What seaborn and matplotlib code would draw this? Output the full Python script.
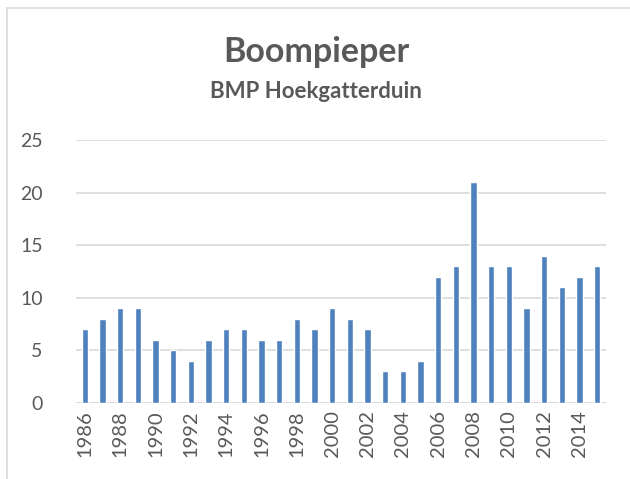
import matplotlib
matplotlib.use("Agg")
import matplotlib.pyplot as plt
import seaborn as sns
import pandas as pd
from matplotlib.lines import Line2D

years = list(range(1986, 2016))
counts = [7, 8, 9, 9, 6, 5, 4, 6, 7, 7, 6, 6, 8, 7, 9, 8, 7, 3, 3, 4,
          12, 13, 21, 13, 13, 9, 14, 11, 12, 13]
yticks = [0, 5, 10, 15, 20, 25]
title = "Boompieper"
subtitle = "BMP Hoekgatterduin"

sns.set_style("white")
plt.rcParams['font.family'] = ['Lato', 'DejaVu Sans']

df = pd.DataFrame({"year": [str(y) for y in years], "count": counts})

fig = plt.figure(figsize=(6.30, 4.79), dpi=100)
ax = fig.add_axes([76/630, 1 - 403/479, 530/630, 263/479])

sns.barplot(data=df, x="year", y="count", color="#4F81BD", saturation=1,
            width=0.36, ax=ax, zorder=3)

ax.set_ylim(0, 25)
ax.set_xlim(-0.5, len(years) - 0.5)
ax.set_yticks(yticks)
ax.set_yticklabels([str(v) for v in yticks])
ax.yaxis.grid(True, color="#D9D9D9", linewidth=1.2, zorder=0)
ax.set_axisbelow(True)
for s in ax.spines.values():
    s.set_visible(False)
ax.axhline(0, color="#D9D9D9", linewidth=1.2, zorder=2)

ax.set_xticks(range(len(years)))
ax.set_xticklabels([str(y) if y % 2 == 0 else "" for y in years],
                   rotation=90)
ax.tick_params(axis="x", length=0, pad=5, labelsize=14.5, colors="#595959")
ax.tick_params(axis="y", length=0, pad=24, labelsize=14, colors="#595959")
ax.set_xlabel("")
ax.set_ylabel("")

fig.text(316/630, 1 - 52/479, title, ha="center", va="center",
         fontsize=24.5, fontweight="bold", color="#595959")
fig.text(316/630, 1 - 92/479, subtitle, ha="center", va="center",
         fontsize=16, fontweight="bold", color="#595959")

# chart border (left and top visible)
fig.add_artist(Line2D([7/630, 7/630], [0, 1 - 8/479], transform=fig.transFigure,
                      color="#D9D9D9", linewidth=1.2))
fig.add_artist(Line2D([7/630, 1], [1 - 8/479, 1 - 8/479], transform=fig.transFigure,
                      color="#D9D9D9", linewidth=1.2))

fig.savefig("out.png", dpi=100)
